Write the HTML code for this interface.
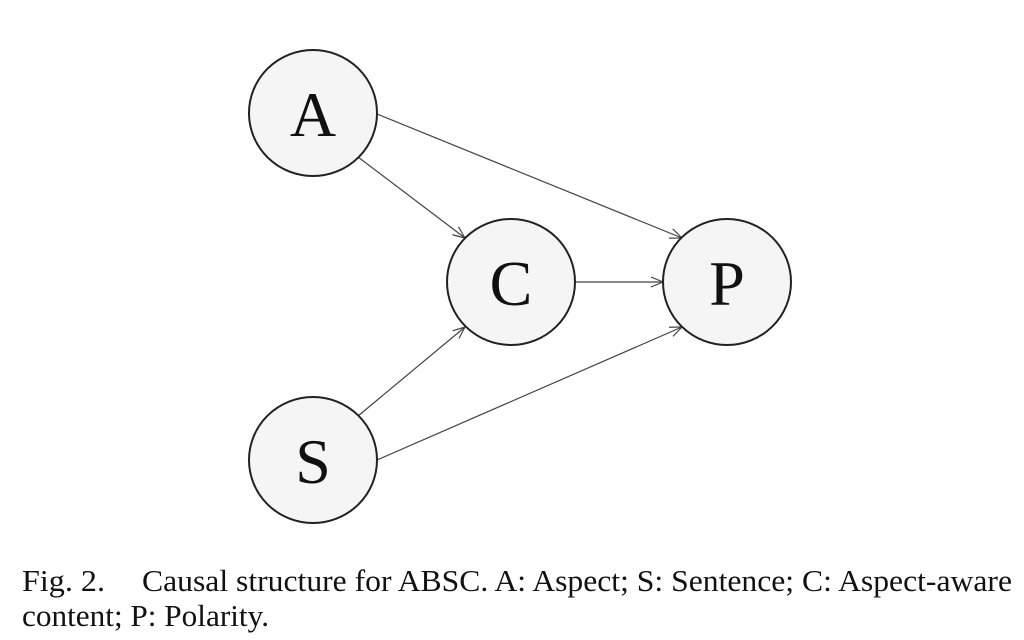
<!DOCTYPE html>
<html><head><style>html,body{margin:0;padding:0;background:#fff;width:1024px;height:640px;overflow:hidden}
text{font-family:"Liberation Serif","Times New Roman",serif}</style></head>
<body>
<svg width="1024" height="640" viewBox="0 0 1024 640" xmlns="http://www.w3.org/2000/svg">
<defs><marker id="ar" markerWidth="14" markerHeight="12" refX="13" refY="6" orient="auto" markerUnits="userSpaceOnUse"><path d="M1,1 L13,6 L1,11" fill="none" stroke="#444" stroke-width="1.2"/></marker></defs>
<g stroke="#444" stroke-width="1.2" fill="none" marker-end="url(#ar)">
<line x1="358" y1="157" x2="465" y2="238"/>
<line x1="377" y1="114" x2="682" y2="238"/>
<line x1="575" y1="282" x2="663" y2="282"/>
<line x1="358" y1="416" x2="465" y2="327"/>
<line x1="377" y1="460" x2="682" y2="327"/>
</g>
<g fill="#f5f5f5" stroke="#222" stroke-width="2">
<ellipse cx="313" cy="113" rx="64" ry="63"/>
<ellipse cx="511" cy="282" rx="64" ry="63"/>
<ellipse cx="727" cy="282" rx="64" ry="63"/>
<ellipse cx="313" cy="460" rx="64" ry="63"/>
</g>
<g font-size="64" fill="#111" text-anchor="middle">
<text x="313" y="136">A</text>
<text x="511" y="305">C</text>
<text x="727" y="305">P</text>
<text x="313" y="483">S</text>
</g>
<g font-size="31" fill="#111">
<text x="22" y="591" textLength="83" lengthAdjust="spacingAndGlyphs">Fig. 2.</text>
<text x="142" y="591" textLength="870" lengthAdjust="spacingAndGlyphs">Causal structure for ABSC. A: Aspect; S: Sentence; C: Aspect-aware</text>
<text x="22" y="626" textLength="247" lengthAdjust="spacingAndGlyphs">content; P: Polarity.</text>
</g>
</svg>
</body></html>
